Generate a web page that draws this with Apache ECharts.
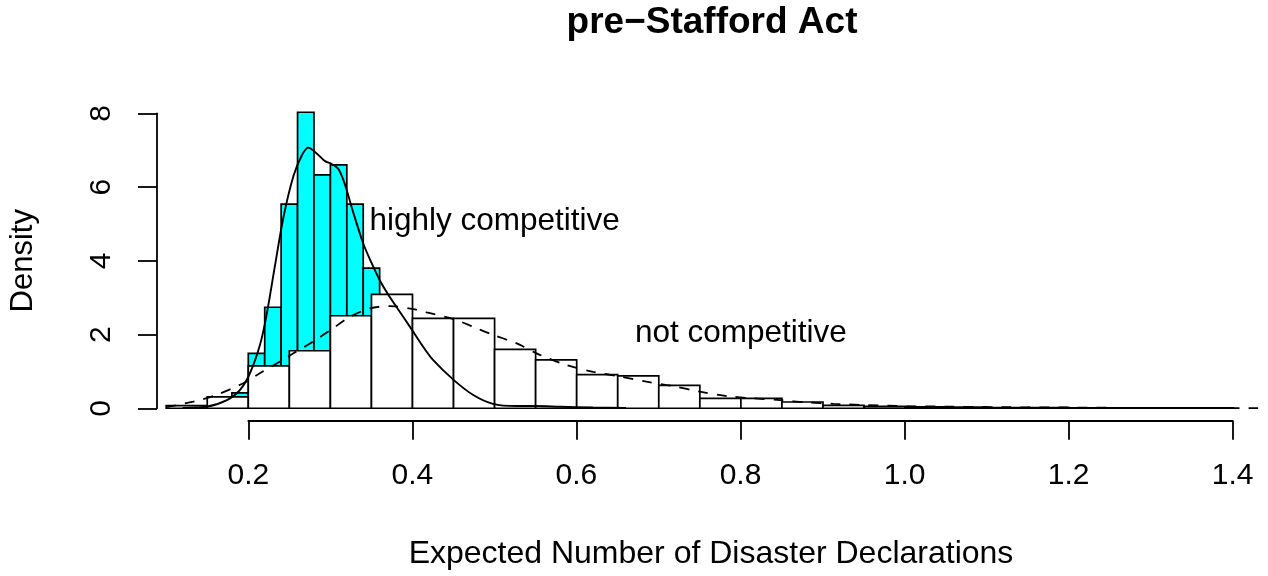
<!DOCTYPE html>
<html>
<head>
<meta charset="utf-8">
<script src="https://cdn.jsdelivr.net/npm/echarts@6/dist/echarts.min.js"></script>
<style>
html,body{margin:0;padding:0;background:#fff;}
#chart{width:1268px;height:576px;}
</style>
</head>
<body>
<div id="chart"></div>
<script>
// ---- data ----
const titleText = 'pre\u2212Stafford Act';
const xAxisTitle = 'Expected Number of Disaster Declarations';
const yAxisTitle = 'Density';
const xTicks = [0.2, 0.4, 0.6, 0.8, 1.0, 1.2, 1.4];
const yTicks = [0, 2, 4, 6, 8];

// highly competitive histogram (bin width 0.02)
const hcLeft  = [0.16, 0.18, 0.20, 0.22, 0.24, 0.26, 0.28, 0.30, 0.32, 0.34, 0.36, 0.38, 0.40, 0.42, 0.44, 0.46, 0.48, 0.50];
const hcRight = [0.18, 0.20, 0.22, 0.24, 0.26, 0.28, 0.30, 0.32, 0.34, 0.36, 0.38, 0.40, 0.42, 0.44, 0.46, 0.48, 0.50, 0.52];
const hcDensity = [0.10, 0.42, 1.49, 2.74, 5.54, 8.03, 6.33, 6.60, 5.54, 3.80, 2.90, 2.30, 1.60, 1.10, 0.70, 0.40, 0.20, 0.10];

// not competitive histogram (bin width 0.05)
const ncLeft  = [0.10, 0.15, 0.20, 0.25, 0.30, 0.35, 0.40, 0.45, 0.50, 0.55, 0.60, 0.65, 0.70, 0.75, 0.80, 0.85, 0.90, 0.95, 1.00, 1.05, 1.10, 1.15, 1.20, 1.25, 1.30, 1.35];
const ncRight = [0.15, 0.20, 0.25, 0.30, 0.35, 0.40, 0.45, 0.50, 0.55, 0.60, 0.65, 0.70, 0.75, 0.80, 0.85, 0.90, 0.95, 1.00, 1.05, 1.10, 1.15, 1.20, 1.25, 1.30, 1.35, 1.40];
const ncDensity = [0.07, 0.31, 1.15, 1.56, 2.51, 3.09, 2.44, 2.44, 1.60, 1.31, 0.91, 0.88, 0.62, 0.27, 0.27, 0.17, 0.08, 0.05, 0.04, 0.03, 0.02, 0.02, 0.01, 0.01, 0.01, 0.01];

// kernel density, highly competitive (solid)
const hcKdeX = [0.12, 0.149, 0.174, 0.19, 0.202, 0.214, 0.222, 0.232, 0.243, 0.255, 0.265, 0.273, 0.283, 0.293, 0.302, 0.31, 0.318, 0.328, 0.34, 0.35, 0.36, 0.37, 0.382, 0.399, 0.412, 0.425, 0.45, 0.474, 0.498, 0.527, 0.55, 0.58, 0.62, 0.66];
const hcKdeY = [0.01, 0.04, 0.22, 0.50, 0.95, 1.70, 2.50, 3.80, 5.20, 6.30, 6.85, 7.07, 6.92, 6.71, 6.62, 6.48, 6.05, 5.30, 4.47, 3.95, 3.48, 3.10, 2.70, 2.14, 1.70, 1.31, 0.77, 0.36, 0.12, 0.06, 0.06, 0.04, 0.02, 0.01];

// kernel density, not competitive (dashed)
const ncKdeX = [0.10, 0.133, 0.161, 0.194, 0.214, 0.235, 0.255, 0.279, 0.30, 0.324, 0.348, 0.373, 0.401, 0.417, 0.45, 0.474, 0.498, 0.527, 0.555, 0.588, 0.62, 0.653, 0.685, 0.718, 0.75, 0.783, 0.815, 0.848, 0.88, 0.913, 0.95, 0.994, 1.05, 1.116, 1.20, 1.278, 1.35, 1.43];
const ncKdeY = [0.03, 0.18, 0.36, 0.68, 0.95, 1.22, 1.49, 1.81, 2.12, 2.48, 2.71, 2.77, 2.69, 2.60, 2.42, 2.21, 1.99, 1.76, 1.45, 1.17, 0.99, 0.86, 0.72, 0.60, 0.45, 0.33, 0.27, 0.22, 0.16, 0.12, 0.09, 0.06, 0.045, 0.03, 0.02, 0.01, 0.008, 0.005];

// annotations
const noteText = ['highly competitive', 'not competitive'];
const noteX = [0.5, 0.8];
const noteY = [5.08, 2.04];

// ---- build ----
const FONT = '"Liberation Sans", Arial, Helvetica, sans-serif';
const zip2 = (a, b) => a.map((v, i) => [v, b[i]]);
const zip3 = (a, b, c) => a.map((v, i) => [v, b[i], c[i]]);

function histRender(fill) {
  return function (params, api) {
    const x0 = api.value(0), x1 = api.value(1), h = api.value(2);
    const p0 = api.coord([x0, h]);
    const p1 = api.coord([x1, 0]);
    return {
      type: 'rect',
      shape: { x: p0[0], y: p0[1], width: p1[0] - p0[0], height: p1[1] - p0[1] },
      style: { fill: fill, stroke: '#000', lineWidth: 1.7 }
    };
  };
}

const chart = echarts.init(document.getElementById('chart'), null, { renderer: 'canvas' });
chart.setOption({
  animation: false,
  backgroundColor: '#fff',
  textStyle: { fontFamily: FONT, color: '#000' },
  title: {
    text: titleText, left: 712, top: 4, textAlign: 'center', padding: 0,
    textStyle: { fontFamily: FONT, fontSize: 37, fontWeight: 'bold', color: '#000' }
  },
  grid: [
    { left: 157, width: 1108, top: 94.9, height: 331.8 },   // data
    { left: 248.3, width: 984.4, top: 100, height: 320.7 },  // x axis display
    { left: 157, width: 100, top: 113.3, height: 295 }       // y axis display
  ],
  xAxis: [
    { gridIndex: 0, type: 'value', min: 0.0888, max: 1.4384,
      axisLine: { show: false }, axisTick: { show: false }, axisLabel: { show: false }, splitLine: { show: false },
      name: xAxisTitle, nameLocation: 'middle', nameGap: 111,
      nameTextStyle: { fontFamily: FONT, fontSize: 32, color: '#000' } },
    { gridIndex: 1, type: 'value', min: 0.2, max: 1.4, interval: 0.2, position: 'bottom',
      axisLine: { show: true, lineStyle: { color: '#000', width: 1.8 } },
      axisTick: { show: true, length: 19, lineStyle: { color: '#000', width: 1.8 } },
      axisLabel: { show: true, fontFamily: FONT, fontSize: 30, color: '#000', margin: 40,
        formatter: v => v.toFixed(1), customValues: xTicks },
      splitLine: { show: false } },
    { gridIndex: 2, type: 'value', show: false }
  ],
  yAxis: [
    { gridIndex: 0, type: 'value', min: -0.5, max: 8.5, show: false },
    { gridIndex: 1, type: 'value', show: false },
    { gridIndex: 2, type: 'value', min: 0, max: 8, interval: 2, position: 'left',
      axisLine: { show: true, lineStyle: { color: '#000', width: 1.8 } },
      axisTick: { show: true, length: 19, lineStyle: { color: '#000', width: 1.8 } },
      axisLabel: { show: true, rotate: 90, fontFamily: FONT, fontSize: 30, color: '#000', margin: 40,
        customValues: yTicks },
      splitLine: { show: false },
      name: yAxisTitle, nameLocation: 'middle', nameGap: 118,
      nameTextStyle: { fontFamily: FONT, fontSize: 31, color: '#000' } }
  ],
  series: [
    { type: 'custom', name: 'highly competitive', xAxisIndex: 0, yAxisIndex: 0,
      data: zip3(hcLeft, hcRight, hcDensity), encode: { x: [0, 1], y: 2 },
      renderItem: histRender('#00FFFF'), z: 2 },
    { type: 'custom', name: 'not competitive', xAxisIndex: 0, yAxisIndex: 0,
      data: zip3(ncLeft, ncRight, ncDensity), encode: { x: [0, 1], y: 2 },
      renderItem: histRender('#FFFFFF'), z: 3 },
    { type: 'line', xAxisIndex: 0, yAxisIndex: 0, data: zip2(hcKdeX, hcKdeY),
      showSymbol: false, smooth: 0.3,
      lineStyle: { color: '#000', width: 1.9 }, z: 4 },
    { type: 'line', xAxisIndex: 0, yAxisIndex: 0, data: zip2(ncKdeX, ncKdeY),
      showSymbol: false, smooth: 0.3,
      lineStyle: { color: '#000', width: 1.8, type: [10, 9] }, z: 4 },
    { type: 'scatter', xAxisIndex: 0, yAxisIndex: 0, symbolSize: 0,
      itemStyle: { opacity: 1 },
      data: zip3(noteX, noteY, noteText), z: 5,
      label: { show: true, position: 'inside', formatter: p => p.value[2],
        fontFamily: FONT, fontSize: 31.5, color: '#000', opacity: 1 } }
  ]
});
</script>
</body>
</html>
